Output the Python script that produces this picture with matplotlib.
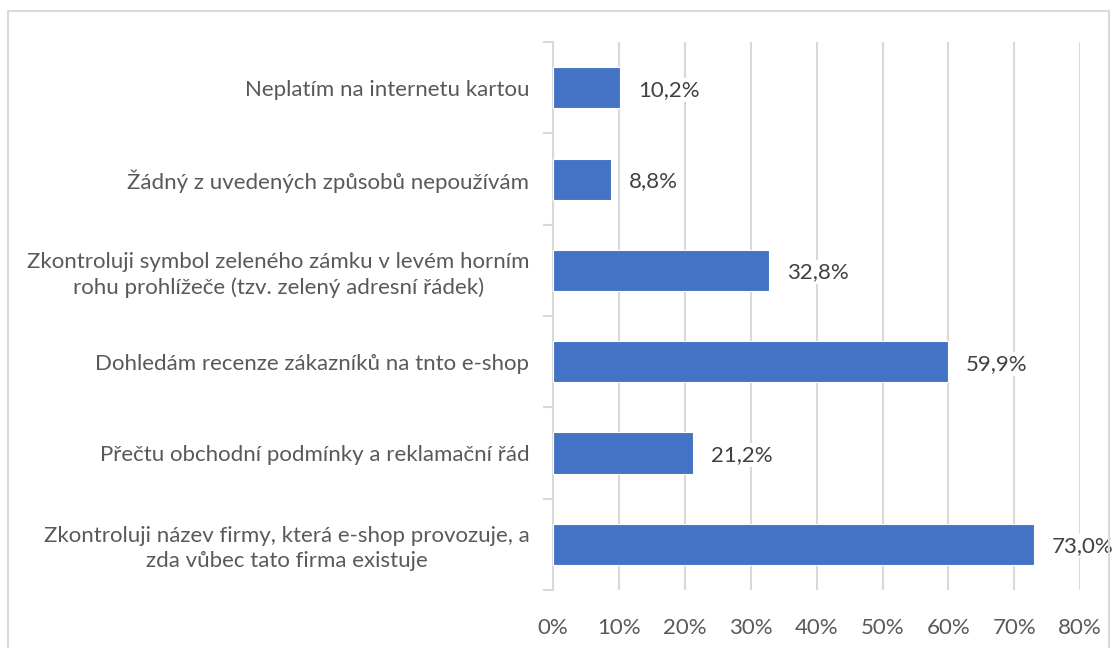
import numpy as np
import matplotlib.pyplot as plt
from matplotlib.patches import Rectangle
from matplotlib.ticker import FixedLocator, PercentFormatter

plt.rcParams['font.family'] = ['Lato', 'DejaVu Sans']

# data, top to bottom
categories = [
    "Neplatím na internetu kartou",
    "Žádný z uvedených způsobů nepoužívám",
    "Zkontroluji symbol zeleného zámku v levém horním\nrohu prohlížeče (tzv. zelený adresní řádek)",
    "Dohledám recenze zákazníků na tnto e-shop",
    "Přečtu obchodní podmínky a reklamační řád",
    "Zkontroluji název firmy, která e-shop provozuje, a\nzda vůbec tato firma existuje",
]
values = [10.2, 8.8, 32.8, 59.9, 21.2, 73.0]
value_labels = ["10,2%", "8,8%", "32,8%", "59,9%", "21,2%", "73,0%"]
xticks = [0, 10, 20, 30, 40, 50, 60, 70, 80]

fs = 16

fig = plt.figure(figsize=(11.15, 6.48), dpi=100)
ax = fig.add_axes([0.496, 0.0895, 0.4728, 0.8455])

y = np.arange(len(categories))[::-1]
ax.barh(y, values, height=0.45, color='#4472C4', edgecolor='white', linewidth=0.8, zorder=3)

ax.set_xlim(0, 80)
ax.set_ylim(-0.5, len(categories) - 0.5)
ax.set_xticks(xticks)
ax.xaxis.set_major_formatter(PercentFormatter(decimals=0))
ax.grid(axis='x', color='#D9D9D9', linewidth=1.5, zorder=0)
ax.set_axisbelow(True)

ax.set_yticks(y)
ax.set_yticklabels(categories)
for lbl in ax.get_yticklabels():
    lbl.set_multialignment('center')
    lbl.set_linespacing(1.3)
ax.yaxis.set_minor_locator(FixedLocator(np.arange(-0.5, len(categories), 1)))
ax.tick_params(axis='y', which='major', length=0, pad=17, labelsize=fs, labelcolor='#595959')
ax.tick_params(axis='y', which='minor', length=7, width=1.5, color='#D9D9D9', direction='out')
ax.tick_params(axis='x', length=0, pad=20, labelsize=fs, labelcolor='#595959')

for s in ['top', 'right', 'bottom']:
    ax.spines[s].set_visible(False)
ax.spines['left'].set_color('#D9D9D9')
ax.spines['left'].set_linewidth(1.5)

for yi, v, t in zip(y, values, value_labels):
    ax.annotate(t, (v, yi), xytext=(18, -2), textcoords='offset pixels',
                va='center', ha='left', fontsize=fs, color='#404040',
                bbox=dict(facecolor='white', edgecolor='none', pad=1.5), zorder=4)

# chart border
fig.patches.append(Rectangle((8 / 1115, -0.05), 1101 / 1115, 1.05 - 11 / 648,
                             transform=fig.transFigure, fill=False,
                             edgecolor='#D9D9D9', linewidth=1.5))

fig.savefig('out.png', dpi=100)
